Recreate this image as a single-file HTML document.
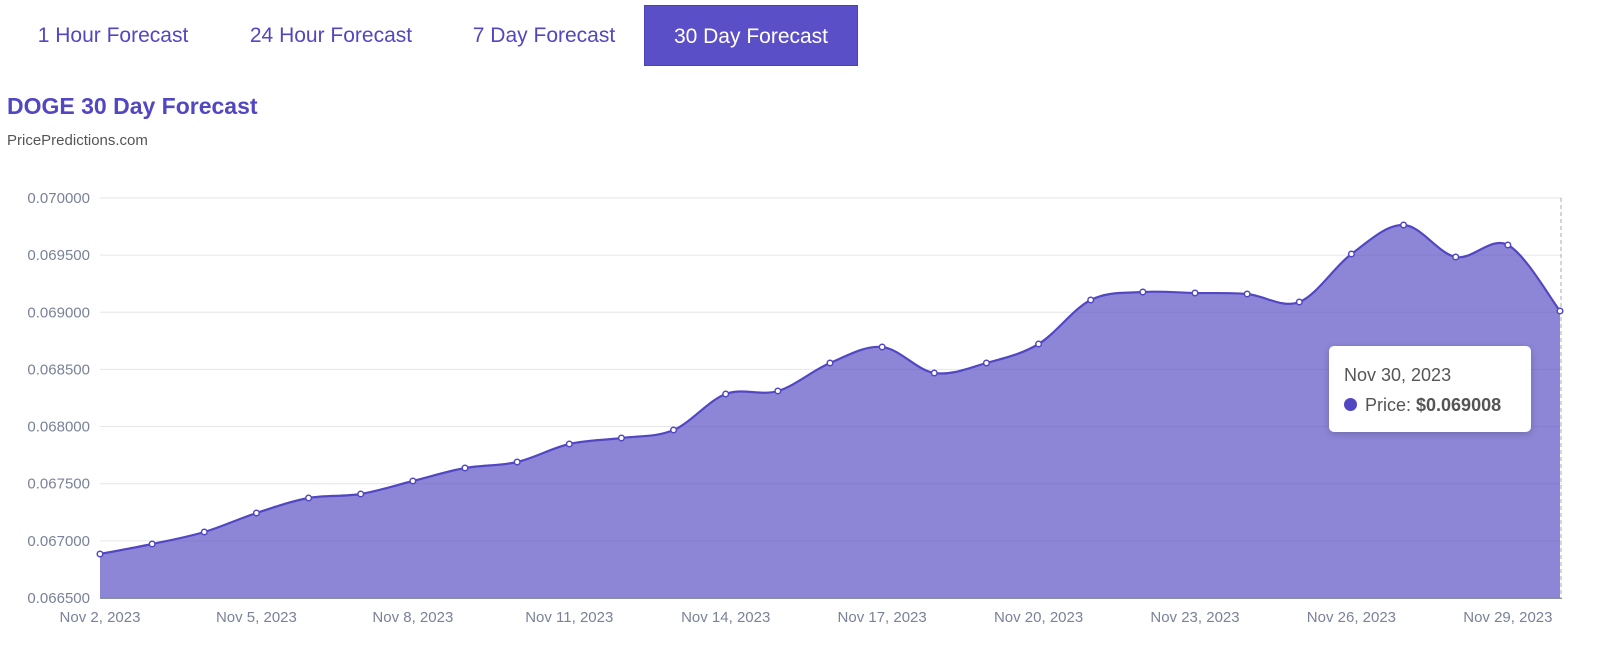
<!DOCTYPE html>
<html><head><meta charset="utf-8"><style>
body{margin:0;width:1600px;height:648px;background:#fff;font-family:"Liberation Sans",sans-serif;position:relative;overflow:hidden}
.tab{position:absolute;top:5px;height:61px;line-height:61px;font-size:21px;color:#5247c2;text-align:center}
.act{background:#5a4fc6;color:#fff;border:1px solid #4a40b8;box-sizing:border-box}
</style></head><body>
<div class="tab" style="left:18px;width:190px">1 Hour Forecast</div>
<div class="tab" style="left:230px;width:202px">24 Hour Forecast</div>
<div class="tab" style="left:455px;width:178px">7 Day Forecast</div>
<div class="tab act" style="left:644px;width:214px">30 Day Forecast</div>
<div style="position:absolute;left:7px;top:93px;font-size:23px;font-weight:bold;color:#5247c2">DOGE 30 Day Forecast</div>
<div style="position:absolute;left:7px;top:132px;font-size:15px;color:#555">PricePredictions.com</div>
<svg id="c" width="1600" height="648" style="position:absolute;left:0;top:0"></svg>
<div style="position:absolute;left:1329px;top:346px;width:202px;height:86px;background:#fff;border-radius:5px;box-shadow:0 2px 8px rgba(0,0,0,.2);color:#555;font-size:18px">
<div style="position:absolute;left:15px;top:19px">Nov 30, 2023</div>
<div style="position:absolute;left:15px;top:49px"><span style="display:inline-block;width:13px;height:13px;border-radius:50%;background:#5247c2;margin-right:8px"></span>Price: <b>$0.069008</b></div>
</div>
<script>
var ys=[554,544,532,513,498,494,481,468,462,444,438,430,394,391,363,347,373,363,344,300,292,293,294,302,254,225,257,245,311];
var pts=ys.map((y,i)=>[100+i*(1460/28),y]);
var s='';
for(var k=0;k<8;k++){var y=198+k*57.14;s+='<line x1="100" x2="1562" y1="'+y+'" y2="'+y+'" stroke="#e6e6ea"/>';
s+='<text x="90" y="'+(y+5)+'" text-anchor="end" font-size="15" fill="#7a8299" font-family="Liberation Sans">'+(0.07-k*0.0005).toFixed(6)+'</text>';}
var d='M'+pts[0];
for(var i=0;i<pts.length-1;i++){var p0=pts[Math.max(i-1,0)],p1=pts[i],p2=pts[i+1],p3=pts[Math.min(i+2,pts.length-1)];
var c1=[p1[0]+(p2[0]-p0[0])/6,p1[1]+(p2[1]-p0[1])/6],c2=[p2[0]-(p3[0]-p1[0])/6,p2[1]-(p3[1]-p1[1])/6];
d+=' C'+c1+' '+c2+' '+p2;}
s+='<path d="'+d+' L1560,598 L100,598Z" fill="#5247c2" fill-opacity="0.66"/>';
s+='<line x1="1561" x2="1561" y1="198" y2="598" stroke="#aab" stroke-dasharray="4,3"/>';
s+='<path d="'+d+'" fill="none" stroke="#5247c2" stroke-width="2.2"/>';
pts.forEach(p=>{s+='<circle cx="'+p[0]+'" cy="'+p[1]+'" r="2.8" fill="#fff" stroke="#5247c2" stroke-width="1.5"/>';});
s+='<line x1="100" x2="1562" y1="598.5" y2="598.5" stroke="#8a90a6"/>';
var lb=['Nov 2, 2023','Nov 5, 2023','Nov 8, 2023','Nov 11, 2023','Nov 14, 2023','Nov 17, 2023','Nov 20, 2023','Nov 23, 2023','Nov 26, 2023','Nov 29, 2023'];
lb.forEach((t,j)=>{s+='<text x="'+(100+j*3*(1460/28))+'" y="622" text-anchor="middle" font-size="15" fill="#7a8299" font-family="Liberation Sans">'+t+'</text>';});
document.getElementById('c').innerHTML=s;
</script>
</body></html>
